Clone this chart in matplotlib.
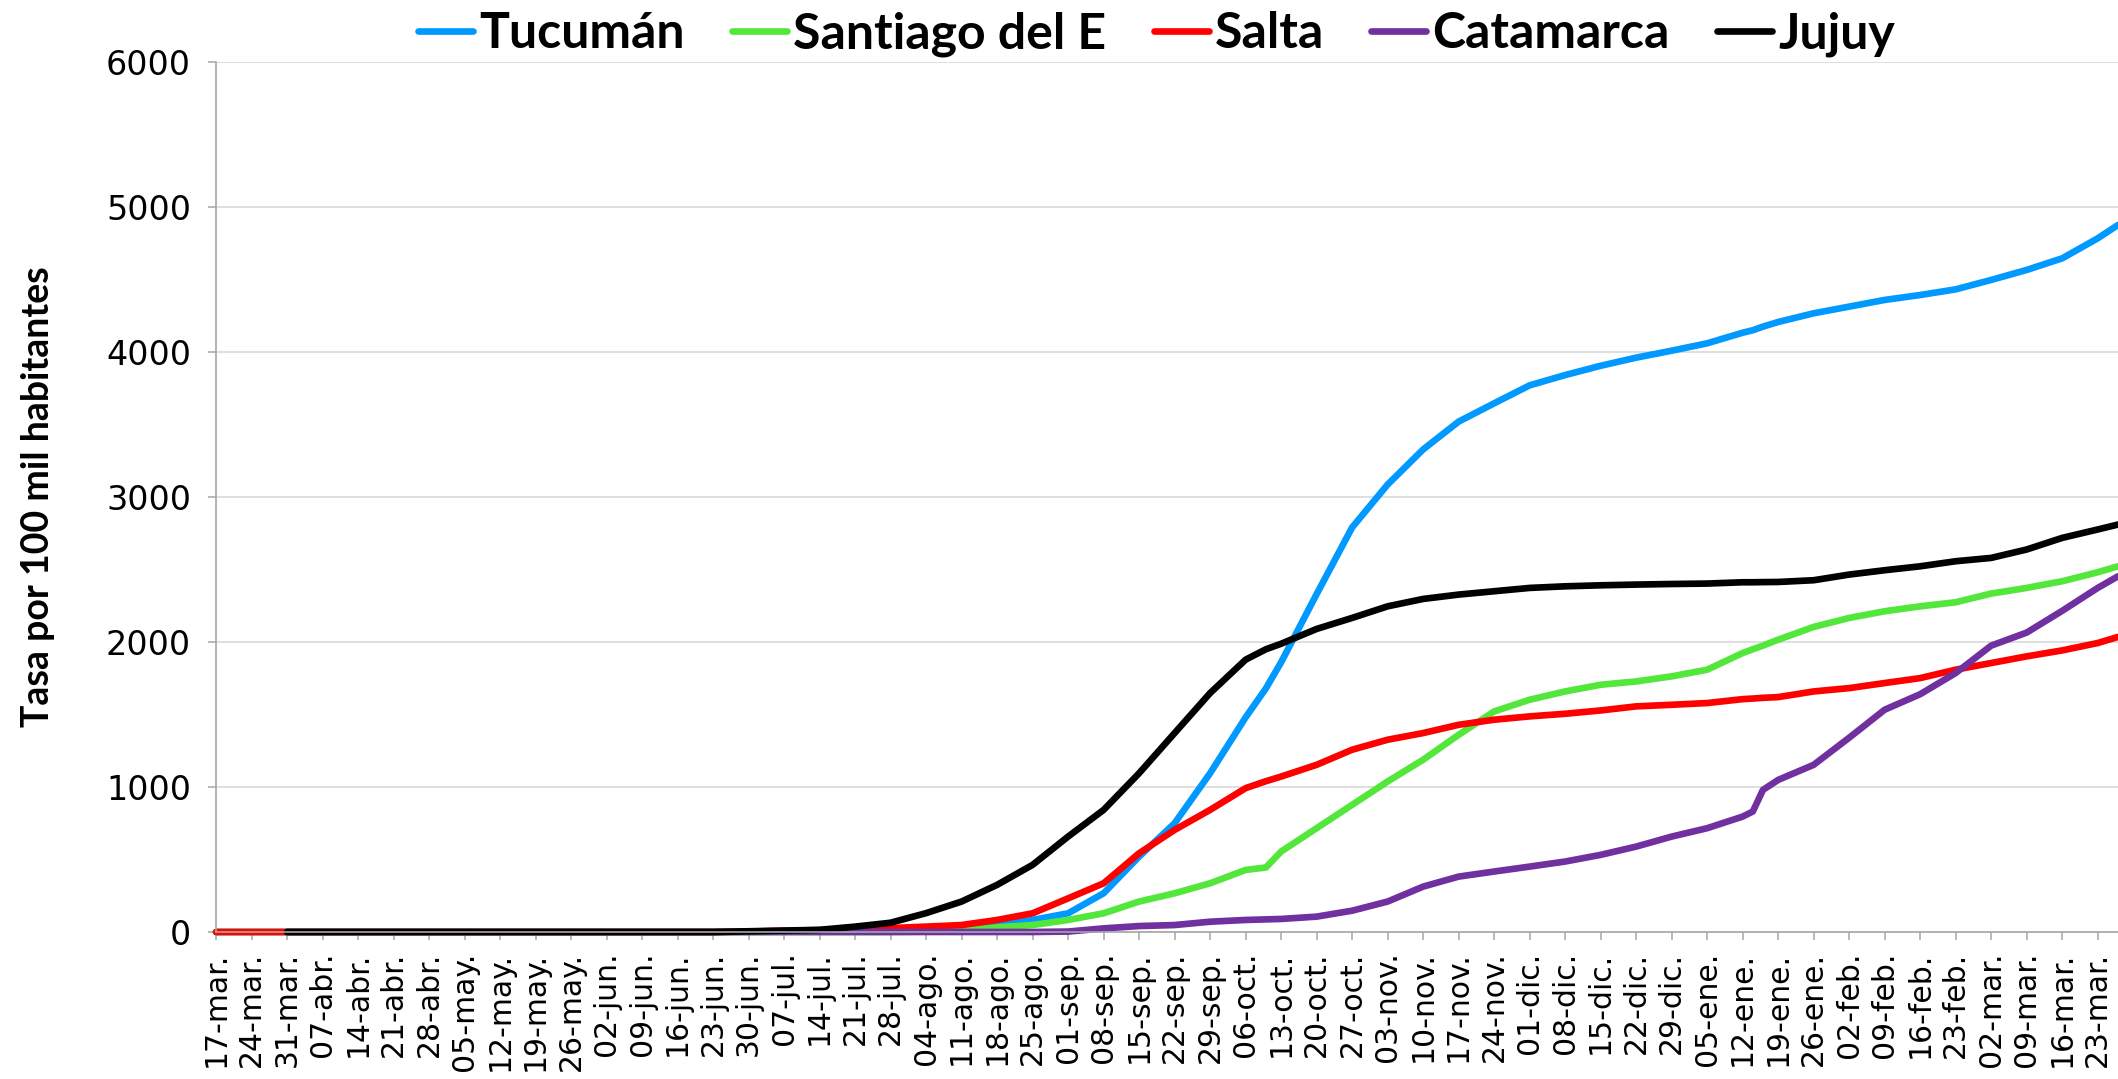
import numpy as np
import matplotlib
matplotlib.use('Agg')
import matplotlib.pyplot as plt
from matplotlib.font_manager import FontProperties

# days counted from 17-mar-2020
days = [0, 7, 14, 21, 28, 35, 42, 49, 56, 63, 70, 77, 84, 91, 98, 105, 112, 119, 126, 133,
        140, 147, 154, 161, 168, 175, 182, 189, 196, 203, 207, 210, 217, 224, 231, 238, 245,
        252, 259, 266, 273, 280, 287, 294, 301, 303, 305, 308, 315, 322, 329, 336, 343, 350,
        357, 364, 371, 375]

nan = np.nan
tucuman = [0] * 15 + [1, 2, 3, 4, 5, 7, 10, 48, 83, 129, 267, 520, 750, 1095, 1480, 1680, 1860,
                      2330, 2790, 3086, 3328, 3520, 3646, 3770, 3841, 3905, 3961, 4009, 4060,
                      4133, 4150, 4175, 4207, 4267, 4313, 4359, 4393, 4432, 4497, 4566, 4646,
                      4784, 4876]
santiago = [0] * 20 + [3, 8, 32, 48, 83, 129, 210, 267, 336, 428, 445, 555, 716, 877, 1038,
                       1188, 1360, 1521, 1602, 1659, 1705, 1728, 1763, 1809, 1924, 1950, 1975,
                       2016, 2104, 2166, 2212, 2246, 2274, 2334, 2373, 2419, 2481, 2522]
salta = [0] * 15 + [3, 9, 13, 18, 27, 37, 48, 83, 129, 232, 336, 543, 704, 842, 992, 1040, 1072,
                    1153, 1257, 1326, 1372, 1429, 1464, 1487, 1505, 1528, 1556, 1567, 1579,
                    1606, 1610, 1615, 1620, 1659, 1682, 1717, 1751, 1809, 1855, 1901, 1942,
                    1993, 2035]
catamarca = [nan, nan] + [0] * 22 + [3, 25, 41, 48, 71, 83, 87, 90, 106, 147, 210, 313, 382,
                                     417, 451, 486, 532, 589, 658, 716, 796, 831, 980, 1049,
                                     1153, 1340, 1533, 1640, 1786, 1975, 2065, 2215, 2373, 2453]
jujuy = [nan, nan] + [0] * 13 + [5, 10, 15, 37, 64, 130, 210, 325, 463, 658, 842, 1095, 1372,
                                 1648, 1878, 1950, 1988, 2090, 2166, 2246, 2297, 2327, 2350,
                                 2373, 2384, 2391, 2396, 2400, 2403, 2412, 2412, 2413, 2414,
                                 2426, 2465, 2495, 2522, 2557, 2580, 2638, 2718, 2776, 2810]

names = ['Tucumán', 'Santiago del E', 'Salta', 'Catamarca', 'Jujuy']
colors = ['#0099FF', '#53E63B', '#FF0000', '#7030A0', '#000000']

tick_labels = ['17-mar.', '24-mar.', '31-mar.', '07-abr.', '14-abr.', '21-abr.', '28-abr.',
               '05-may.', '12-may.', '19-may.', '26-may.', '02-jun.', '09-jun.', '16-jun.',
               '23-jun.', '30-jun.', '07-jul.', '14-jul.', '21-jul.', '28-jul.', '04-ago.',
               '11-ago.', '18-ago.', '25-ago.', '01-sep.', '08-sep.', '15-sep.', '22-sep.',
               '29-sep.', '06-oct.', '13-oct.', '20-oct.', '27-oct.', '03-nov.', '10-nov.',
               '17-nov.', '24-nov.', '01-dic.', '08-dic.', '15-dic.', '22-dic.', '29-dic.',
               '05-ene.', '12-ene.', '19-ene.', '26-ene.', '02-feb.', '09-feb.', '16-feb.',
               '23-feb.', '02-mar.', '09-mar.', '16-mar.', '23-mar.']

fig = plt.figure(figsize=(21.18, 10.79), dpi=100)
ax = fig.add_axes([216 / 2118, 1 - 932 / 1079, 1 - 216 / 2118, (932 - 62) / 1079])

series = [tucuman, santiago, salta, catamarca, jujuy]
for vals, name, col in zip(series, names, colors):
    ax.plot(days, vals, color=col, lw=4.8, label=name,
            solid_capstyle='round', solid_joinstyle='round', clip_on=False)

ax.set_xlim(0, 375)
ax.set_ylim(0, 6000)
ax.set_yticks(np.arange(0, 6001, 1000))
ax.set_xticks(np.arange(0, 372, 7))
ax.set_xticklabels(tick_labels, rotation=90, fontsize=21.5, family='DejaVu Sans')
ax.tick_params(axis='y', labelsize=24, length=6, width=1.1, color='#a6a6a6', pad=12)
ax.tick_params(axis='x', length=6, width=1.1, color='#a6a6a6', pad=8)
ax.grid(axis='y', color='#d9d9d9', lw=1.2)
ax.set_axisbelow(True)
for s in ['top', 'right']:
    ax.spines[s].set_visible(False)
for s in ['left', 'bottom']:
    ax.spines[s].set_color('#a6a6a6')
    ax.spines[s].set_linewidth(1.2)

bold_font = ['Lato', 'DejaVu Sans']
fig.text(38 / 2118, 1 - 497 / 1079, 'Tasa por 100 mil habitantes', rotation=90,
         ha='center', va='center', fontsize=27, fontweight='bold', family=bold_font)

leg = fig.legend(loc='center', bbox_to_anchor=(0.546, 1 - 34 / 1079), ncol=5, frameon=False,
                 prop=FontProperties(family=bold_font, weight='bold', size=36),
                 handlelength=1.1, handletextpad=0.12, columnspacing=0.95)

fig.savefig('out.png', dpi=100)
